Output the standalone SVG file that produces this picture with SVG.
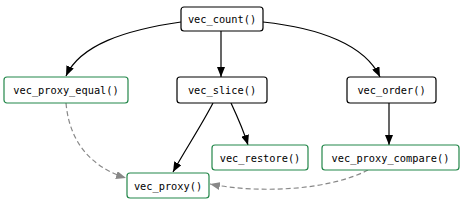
<svg xmlns="http://www.w3.org/2000/svg" width="464" height="213" viewBox="0 0 464 213">
<style>
.n rect{fill:#fff;stroke-width:1.2}
.b rect{stroke:#000}
.g rect{stroke:#23874a}
.n text{font-family:"DejaVu Sans Mono",monospace;font-size:10.3px;fill:#000;text-anchor:middle;dominant-baseline:central}
.e{fill:none;stroke:#000;stroke-width:1.2}
.d{fill:none;stroke:#888;stroke-width:1.2;stroke-dasharray:5,3}
</style>
<defs>
<marker id="ab" viewBox="0 0 10 8" refX="10" refY="4" markerWidth="10" markerHeight="8" markerUnits="userSpaceOnUse" orient="auto"><path d="M0,0L10,4L0,8z" fill="#000"/></marker>
<marker id="ag" viewBox="0 0 10 8" refX="10" refY="4" markerWidth="10" markerHeight="8" markerUnits="userSpaceOnUse" orient="auto"><path d="M0,0L10,4L0,8z" fill="#888"/></marker>
</defs>
<g id="edges">
<path class="e" d="M181,22 C125,30 80,45 66,76" marker-end="url(#ab)"/>
<path class="e" d="M221,31 L221,77" marker-end="url(#ab)"/>
<path class="e" d="M263,22 C320,28 365,45 380,77" marker-end="url(#ab)"/>
<path class="e" d="M213,103 C200,128 185,150 173,172" marker-end="url(#ab)"/>
<path class="e" d="M231,103 C238,118 244,132 248,145" marker-end="url(#ab)"/>
<path class="e" d="M389,103 L389,145" marker-end="url(#ab)"/>
<path class="d" d="M66,103 C70,150 100,170 126,178" marker-end="url(#ag)"/>
<path class="d" d="M368,170 C330,190 260,194 210,184" marker-end="url(#ag)"/>
</g>
<g id="vec_count" class="n b"><rect x="181" y="7" width="82" height="24" rx="3"/><text x="222" y="19">vec_count()</text></g>
<g id="vec_proxy_equal" class="n g"><rect x="4" y="77" width="124" height="26" rx="3"/><text x="66" y="90">vec_proxy_equal()</text></g>
<g id="vec_slice" class="n b"><rect x="177" y="77" width="90" height="26" rx="3"/><text x="222" y="90">vec_slice()</text></g>
<g id="vec_order" class="n b"><rect x="347" y="77" width="89" height="26" rx="3"/><text x="391.5" y="90">vec_order()</text></g>
<g id="vec_proxy" class="n g"><rect x="127" y="173" width="82" height="25" rx="3"/><text x="168" y="185.5">vec_proxy()</text></g>
<g id="vec_restore" class="n g"><rect x="212" y="145" width="96" height="25" rx="3"/><text x="260" y="157.5">vec_restore()</text></g>
<g id="vec_proxy_compare" class="n g"><rect x="322" y="145" width="137" height="25" rx="3"/><text x="390.5" y="157.5">vec_proxy_compare()</text></g>
</svg>
